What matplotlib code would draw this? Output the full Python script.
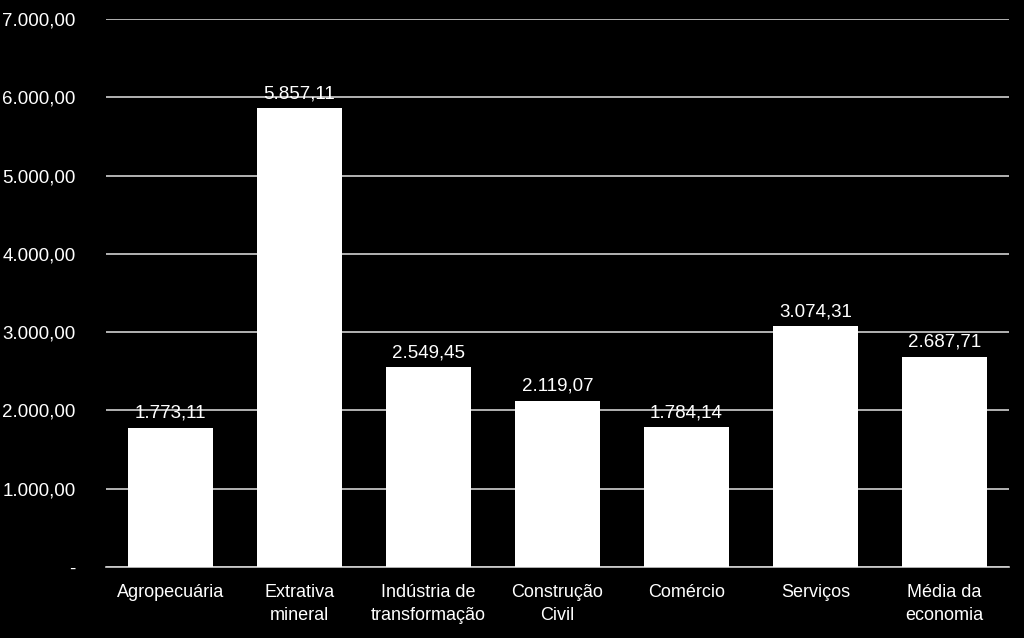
import matplotlib.pyplot as plt
import matplotlib as mpl
from matplotlib.ticker import FuncFormatter

categories = ['Agropecuária', 'Extrativa\nmineral', 'Indústria de\ntransformação',
              'Construção\nCivil', 'Comércio', 'Serviços', 'Média da\neconomia']
values = [1773.11, 5857.11, 2549.45, 2119.07, 1784.14, 3074.31, 2687.71]
yticks = [0, 1000, 2000, 3000, 4000, 5000, 6000, 7000]

mpl.rcParams['font.family'] = ['Liberation Sans', 'DejaVu Sans']
mpl.rcParams['font.size'] = 13


def br(v, decimals=2):
    s = f'{v:,.{decimals}f}'
    return s.replace(',', 'X').replace('.', ',').replace('X', '.')


fig = plt.figure(figsize=(10.24, 6.38), dpi=100, facecolor='black')
ax = fig.add_axes([106 / 1024, 1 - 567 / 638, 903 / 1024, 548 / 638], facecolor='black')

x = range(len(categories))
bars = ax.bar(x, values, width=0.665, color='white', zorder=3)
for b, v in zip(bars, values):
    ax.text(b.get_x() + b.get_width() / 2, v + 80, br(v), ha='center', va='bottom',
            color='white', fontsize=13.5)

ax.set_xlim(-0.5, len(categories) - 0.5)
ax.set_ylim(0, 7000)
ax.set_yticks(yticks)
ax.yaxis.set_major_formatter(FuncFormatter(lambda v, p: '-' if v == 0 else br(v)))
ax.set_xticks(list(x))
ax.set_xticklabels(categories, color='white', linespacing=1.45)
ax.tick_params(axis='y', colors='white', length=0, pad=22, labelsize=13.5)
ax.tick_params(axis='x', colors='white', length=0, pad=12)
ax.grid(axis='y', color='#d0d0d0', linewidth=1.2, zorder=0)
for s in ['top', 'right', 'left']:
    ax.spines[s].set_visible(False)
ax.spines['bottom'].set_color('#d0d0d0')
ax.spines['bottom'].set_linewidth(1.2)

fig.savefig('out.png', facecolor='black')
